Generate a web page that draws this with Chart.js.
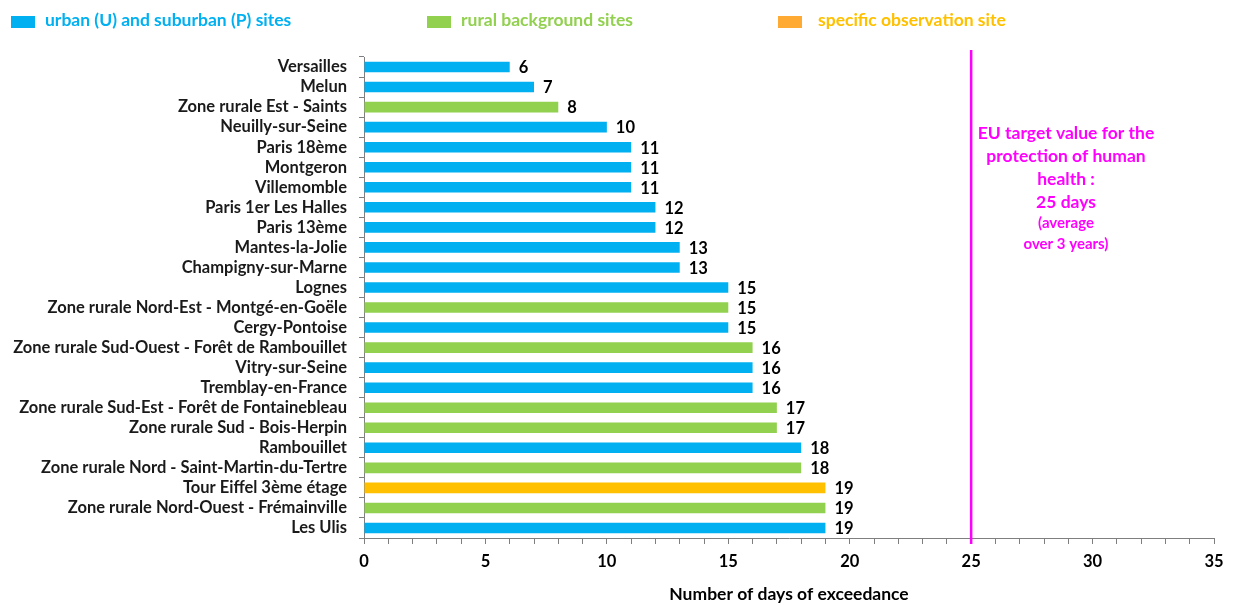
<!DOCTYPE html>
<html>
<head>
<meta charset="utf-8">
<script src="https://cdn.jsdelivr.net/npm/chart.js@4/dist/chart.umd.min.js"></script>
<style>
  html, body { margin: 0; padding: 0; background: #fff; }
  #wrap { position: relative; width: 1237px; height: 605px; }
  .sq { position: absolute; top: 16px; width: 24px; height: 12px; }
  .txt { position: absolute; top: 9px; font: bold 17.5px Lato, sans-serif; line-height: 22px; white-space: nowrap; }
</style>
</head>
<body>
<div id="wrap">
  <canvas id="Chart" width="1237" height="605"></canvas>
  <div class="sq" style="left:11px;background:#00B0F0"></div>
  <div class="txt" style="left:45px;color:#00B0F0">urban (U) and suburban (P) sites</div>
  <div class="sq" style="left:427px;background:#92D050"></div>
  <div class="txt" style="left:461px;color:#92D050">rural background sites</div>
  <div class="sq" style="left:778px;background:#FFAA33"></div>
  <div class="txt" style="left:818px;color:#FFC000">specific observation site</div>
</div>
<script>
const sites = [
  "Versailles", "Melun", "Zone rurale Est - Saints", "Neuilly-sur-Seine",
  "Paris 18ème", "Montgeron", "Villemomble", "Paris 1er Les Halles",
  "Paris 13ème", "Mantes-la-Jolie", "Champigny-sur-Marne", "Lognes",
  "Zone rurale Nord-Est - Montgé-en-Goële", "Cergy-Pontoise",
  "Zone rurale Sud-Ouest - Forêt de Rambouillet", "Vitry-sur-Seine",
  "Tremblay-en-France", "Zone rurale Sud-Est - Forêt de Fontainebleau",
  "Zone rurale Sud - Bois-Herpin", "Rambouillet",
  "Zone rurale Nord - Saint-Martin-du-Tertre", "Tour Eiffel 3ème étage",
  "Zone rurale Nord-Ouest - Frémainville", "Les Ulis"
];
const days = [6, 7, 8, 10, 11, 11, 11, 12, 12, 13, 13, 15, 15, 15, 16, 16, 16, 17, 17, 18, 18, 19, 19, 19];
// U = urban/suburban, R = rural background, S = specific site
const siteTypes = ["U", "U", "R", "U", "U", "U", "U", "U", "U", "U", "U", "U", "R", "U", "R", "U", "U", "R", "R", "U", "R", "S", "R", "U"];
const targetValue = 25;
const targetText = ["EU target value for the", "protection of human", "health :", "25 days", "(average", "over 3 years)"];

const typeColors = { U: "#00B0F0", R: "#92D050", S: "#FFC000" };
const FONT = "Lato, sans-serif";

const valueLabels = {
  id: "valueLabels",
  afterDatasetsDraw(chart) {
    const c = chart.ctx;
    const meta = chart.getDatasetMeta(0);
    c.save();
    c.font = "bold 16.5px " + FONT;
    c.fillStyle = "#000";
    c.textBaseline = "middle";
    meta.data.forEach((bar, i) => {
      c.fillText(days[i], bar.x + 9, bar.y + 1);
    });
    c.restore();
  }
};

const targetLine = {
  id: "targetLine",
  afterDraw(chart) {
    const c = chart.ctx;
    const x = chart.scales.x.getPixelForValue(targetValue);
    c.save();
    c.strokeStyle = "#FF00FF";
    c.lineWidth = 2.5;
    c.beginPath();
    c.moveTo(x, 50);
    c.lineTo(x, chart.chartArea.bottom + 6);
    c.stroke();
    c.fillStyle = "#FF00FF";
    c.textAlign = "center";
    c.textBaseline = "middle";
    const ys = [133, 156, 179, 202, 223, 244];
    targetText.forEach((t, i) => {
      c.font = (i < 4 ? "bold 17.5px " : "bold 15px ") + FONT;
      c.fillText(t, 1066, ys[i]);
    });
    c.restore();
  }
};

const ctx = document.querySelector("#Chart").getContext("2d");
const chart = new Chart(ctx, {
  type: "bar",
  data: {
    labels: sites,
    datasets: [{
      data: days,
      backgroundColor: siteTypes.map(t => typeColors[t]),
      barPercentage: 0.53,
      categoryPercentage: 1
    }]
  },
  options: {
    indexAxis: "y",
    responsive: false,
    animation: false,
    layout: { padding: { top: 57, right: 23, left: 0, bottom: 0 } },
    plugins: {
      legend: { display: false },
      tooltip: { enabled: false }
    },
    scales: {
      x: {
        min: 0,
        max: 35,
        afterFit: s => { s.height = 67; },
        grid: { drawOnChartArea: false, tickLength: 6, color: "#7f7f7f" },
        border: { color: "#7f7f7f", width: 1 },
        ticks: {
          stepSize: 1,
          autoSkip: false,
          maxRotation: 0,
          padding: 8,
          color: "#000",
          font: { family: FONT, size: 16.5, weight: "bold" },
          callback: v => (v % 5 === 0 ? v : "")
        },
        title: {
          display: true,
          text: "Number of days of exceedance",
          color: "#000",
          font: { family: FONT, size: 17.5, weight: "bold" },
          padding: { top: 0, bottom: 0 }
        }
      },
      y: {
        afterFit: s => { s.width = 364; },
        grid: { drawOnChartArea: false, tickLength: 5, offset: true, color: "#7f7f7f" },
        border: { color: "#7f7f7f", width: 1 },
        ticks: {
          autoSkip: false,
          padding: 12,
          color: "#1a1a1a",
          font: { family: FONT, size: 16.5, weight: "bold" }
        }
      }
    }
  },
  plugins: [valueLabels, targetLine]
});
</script>
</body>
</html>
